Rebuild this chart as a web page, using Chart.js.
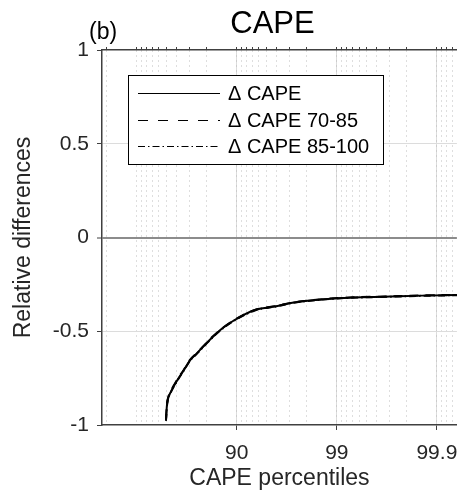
<!DOCTYPE html>
<html>
<head>
<meta charset="utf-8">
<script src="https://cdn.jsdelivr.net/npm/chart.js@4/dist/chart.umd.min.js"></script>
<style>
html, body { margin: 0; padding: 0; background: #fff; }
</style>
</head>
<body>
<canvas id="capeChart" width="469" height="498"></canvas>
<script>
// values (percentile -> relative difference)
var percentiles = [49, 50, 51, 54.5, 60.8, 66.2, 70.9, 74.9, 79.9, 82.7, 86.1, 89.5, 93.4, 96.1, 97.3, 99.02, 99.71, 99.859, 99.934, 99.95];
var dCape      = [-0.975, -0.900, -0.867, -0.822, -0.760, -0.707, -0.653, -0.618, -0.564, -0.529, -0.484, -0.440, -0.387, -0.365, -0.347, -0.324, -0.315, -0.310, -0.307, -0.306];
var dCape7085  = [-0.970, -0.895, -0.862, -0.818, -0.757, -0.705, -0.650, -0.616, -0.562, -0.527, -0.483, -0.439, -0.386, -0.364, -0.346, -0.323, -0.314, -0.309, -0.306, -0.305];
var dCape85100 = [-0.978, -0.905, -0.870, -0.825, -0.763, -0.709, -0.655, -0.620, -0.566, -0.531, -0.486, -0.442, -0.389, -0.366, -0.348, -0.325, -0.316, -0.311, -0.308, -0.307];

var seriesLabels = ['\u0394 CAPE', '\u0394 CAPE 70-85', '\u0394 CAPE 85-100'];
var majorTicks = [90, 99, 99.9];
var majorTickLabels = ['90', '99', '99.9'];
var yTicks = [-1, -0.5, 0, 0.5, 1];

var FONT = '"Liberation Sans", Arial, Helvetica, sans-serif';
var TEXT = '#262626';
var AXIS = '#404040';
var X_MIN = -0.347, X_MAX = 3.2;

// percentile axis: position = -log10(1 - p/100)
function toLogPos(p) {
    return -Math.log10(1 - p / 100);
}

function points(values) {
    return percentiles.map(function (p, i) { return { x: toLogPos(p), y: values[i] }; });
}

// minor grid positions (log spaced on 1 - p)
var minorPositions = [];
for (var e = 0; e >= -4; e--) {
    for (var k = 1; k <= 9; k++) {
        var pos = -Math.log10(k * Math.pow(10, e));
        if (pos >= X_MIN && pos <= X_MAX) minorPositions.push(pos);
    }
}

// title and panel letter
var headerText = {
    id: 'headerText',
    afterDraw: function (chart) {
        var ctx = chart.ctx;
        ctx.save();
        ctx.fillStyle = '#000';
        ctx.textBaseline = 'alphabetic';
        ctx.textAlign = 'center';
        ctx.font = '31px ' + FONT;
        ctx.fillText('CAPE', 272.5, 33);
        ctx.textAlign = 'left';
        ctx.font = '23px ' + FONT;
        ctx.fillText('(b)', 89, 39);
        ctx.restore();
    }
};

// boxed legend inside the axes
var boxLegend = {
    id: 'boxLegend',
    afterDraw: function (chart) {
        var ctx = chart.ctx;
        ctx.save();
        ctx.fillStyle = '#fff';
        ctx.strokeStyle = '#000';
        ctx.lineWidth = 1;
        ctx.fillRect(128.5, 75.5, 255, 89);
        ctx.strokeRect(128.5, 75.5, 255, 89);
        ctx.font = '20px ' + FONT;
        ctx.textBaseline = 'middle';
        chart.data.datasets.forEach(function (ds, i) {
            var y = Math.round(93 + i * 26.5) + 0.5;
            ctx.beginPath();
            ctx.setLineDash(ds.legendDash || []);
            ctx.strokeStyle = '#000';
            ctx.lineWidth = 1;
            ctx.moveTo(138, y);
            ctx.lineTo(220, y);
            ctx.stroke();
            ctx.setLineDash([]);
            ctx.fillStyle = '#000';
            ctx.fillText(ds.label, 228, y + 1);
        });
        ctx.restore();
    }
};

var ctx = document.getElementById('capeChart').getContext('2d');
var capeChart = new Chart(ctx, {
    type: 'line',
    data: {
        datasets: [{
            label: seriesLabels[0],
            data: points(dCape),
            borderColor: '#000',
            borderWidth: 2,
            legendDash: []
        }, {
            label: seriesLabels[1],
            data: points(dCape7085),
            borderColor: '#000',
            borderWidth: 2,
            borderDash: [9, 7],
            legendDash: [10, 10]
        }, {
            label: seriesLabels[2],
            data: points(dCape85100),
            borderColor: '#000',
            borderWidth: 2,
            borderDash: [7, 3, 1.5, 3],
            legendDash: [7, 3, 1.5, 3]
        }]
    },
    options: {
        responsive: false,
        animation: false,
        devicePixelRatio: 1,
        layout: { padding: { left: 0, top: 50, right: 0, bottom: 0 } },
        elements: {
            point: { radius: 0 },
            line: { cubicInterpolationMode: 'monotone' }
        },
        plugins: {
            legend: { display: false },
            tooltip: { enabled: false },
            title: { display: false }
        },
        scales: {
            x: {
                type: 'linear',
                position: 'bottom',
                min: X_MIN,
                max: X_MAX,
                afterBuildTicks: function (s) {
                    s.ticks = majorTicks.map(function (p) { return { value: toLogPos(p) }; });
                },
                afterFit: function (s) { s.height = 73; },
                ticks: {
                    autoSkip: false,
                    maxRotation: 0,
                    padding: 11,
                    color: TEXT,
                    font: { family: FONT, size: 21 },
                    callback: function (v, i) { return majorTickLabels[i]; }
                },
                grid: { color: '#dcdcdc', lineWidth: 1, tickColor: AXIS, tickLength: 5, tickWidth: 1 },
                border: { color: AXIS, width: 1.5 },
                title: {
                    display: true,
                    text: 'CAPE percentiles',
                    color: TEXT,
                    font: { family: FONT, size: 23 },
                    padding: { top: 0, bottom: 6 }
                }
            },
            xMinor: {
                type: 'linear',
                position: 'top',
                min: X_MIN,
                max: X_MAX,
                afterBuildTicks: function (s) {
                    s.ticks = minorPositions.map(function (v) { return { value: v }; });
                },
                afterFit: function (s) { s.height = 0; },
                ticks: { display: false },
                grid: { color: '#bdbdbd', lineWidth: 1, tickColor: AXIS, tickLength: 3, tickWidth: 1 },
                border: { color: AXIS, width: 1.5, dash: [1, 4] }
            },
            y: {
                min: -1,
                max: 1,
                afterBuildTicks: function (s) {
                    s.ticks = yTicks.map(function (v) { return { value: v }; });
                },
                afterFit: function (s) { s.width = 102; },
                ticks: {
                    padding: 8,
                    color: TEXT,
                    font: { family: FONT, size: 21 },
                    callback: function (v) { return String(v); }
                },
                grid: {
                    color: function (c) {
                        if (!c.tick) return '#dcdcdc';
                        if (c.tick.value === 0) return '#8c8c8c';
                        if (c.tick.value === 1 || c.tick.value === -1) return 'rgba(0,0,0,0)';
                        return '#dcdcdc';
                    },
                    lineWidth: function (c) { return c.tick && c.tick.value === 0 ? 2 : 1; },
                    tickColor: AXIS,
                    tickLength: 5,
                    tickWidth: 1
                },
                border: { color: AXIS, width: 1.5 },
                title: {
                    display: true,
                    text: 'Relative differences',
                    color: TEXT,
                    font: { family: FONT, size: 23 },
                    padding: { top: 10, bottom: 0 }
                }
            }
        }
    },
    plugins: [headerText, boxLegend]
});
</script>
</body>
</html>
